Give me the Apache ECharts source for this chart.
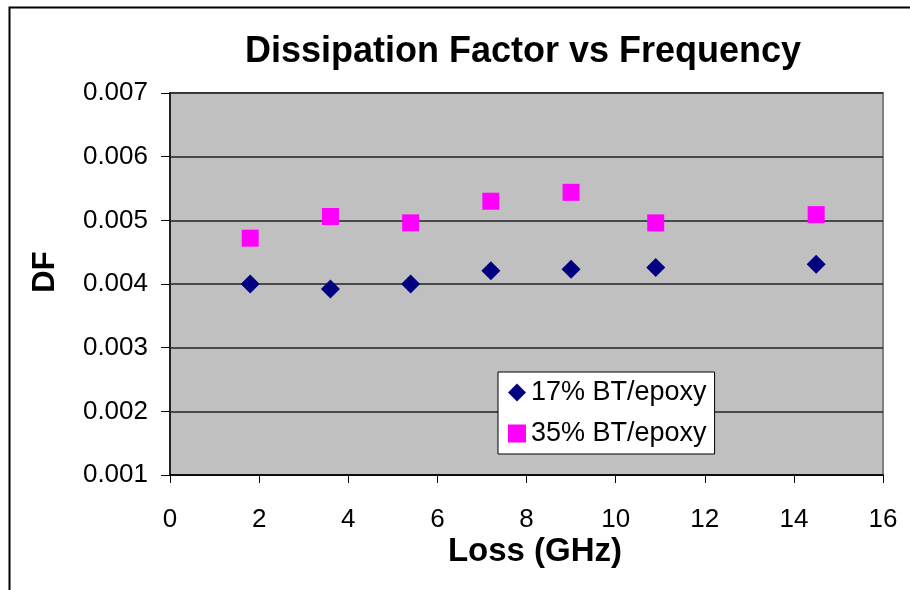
<!DOCTYPE html>
<html>
<head>
<meta charset="utf-8">
<script src="https://cdn.jsdelivr.net/npm/echarts@6/dist/echarts.min.js"></script>
<style>
html,body{margin:0;padding:0;background:#fff;}
#chart{width:910px;height:590px;}
</style>
</head>
<body>
<div id="chart"></div>
<script>
// Data
var freq17 = [1.8, 3.6, 5.4, 7.2, 9.0, 10.9, 14.5];
var df17 = [0.0040, 0.00392, 0.0040, 0.00421, 0.00423, 0.00426, 0.00431];
var freq35 = [1.8, 3.6, 5.4, 7.2, 9.0, 10.9, 14.5];
var df35 = [0.00472, 0.00506, 0.00496, 0.0053, 0.00544, 0.00496, 0.00509];
var seriesNames = ['17% BT/epoxy', '35% BT/epoxy'];
var titleText = 'Dissipation Factor vs Frequency';
var xName = 'Loss (GHz)';
var yName = 'DF';

function pairs(xs, ys){ return xs.map(function(x,i){ return [x, ys[i]]; }); }

var chart = echarts.init(document.getElementById('chart'), null, {renderer:'canvas'});
var FONT = 'Liberation Sans, Arial, sans-serif';
chart.setOption({
  animation: false,
  backgroundColor: '#ffffff',
  title: {
    text: titleText,
    left: 518, top: 29, textAlign: 'center',
    textStyle: {fontFamily: FONT, fontWeight: 'bold', fontSize: 36, color: '#000'}
  },
  grid: {
    left: 170, right: 27, top: 93, bottom: 115,
    show: true, backgroundColor: '#C0C0C0', borderColor: '#808080', borderWidth: 2
  },
  legend: {
    left: 498, top: 372, orient: 'vertical',
    backgroundColor: '#fff', borderColor: '#000', borderWidth: 1,
    padding: [7, 8, 7, 10], itemGap: 14, itemWidth: 18, itemHeight: 18,
    textStyle: {fontFamily: FONT, fontSize: 27, color: '#000'},
    data: [{name: seriesNames[0], icon: 'diamond'}, {name: seriesNames[1], icon: 'rect'}]
  },
  xAxis: {
    type: 'value', min: 0, max: 16, interval: 2,
    axisLine: {show: true, onZero: false, lineStyle: {color: '#000', width: 1.5}},
    axisTick: {show: true, length: 8, lineStyle: {color: '#000', width: 1}},
    axisLabel: {fontFamily: FONT, fontSize: 26, color: '#000', margin: 32},
    splitLine: {show: false}
  },
  yAxis: {
    type: 'value', min: 0.001, max: 0.007, interval: 0.001,
    axisLine: {show: true, onZero: false, lineStyle: {color: '#222', width: 2}},
    axisTick: {show: true, length: 9, lineStyle: {color: '#000', width: 1}},
    axisLabel: {fontFamily: FONT, fontSize: 26, color: '#000', margin: 22,
      formatter: function(v){ return v.toFixed(3); }},
    splitLine: {show: true, lineStyle: {color: '#222', width: 1.5}}
  },
  series: [
    {name: seriesNames[0], type: 'scatter', symbol: 'diamond', symbolSize: 19,
     itemStyle: {color: '#000080', opacity: 1}, data: pairs(freq17, df17), z: 3},
    {name: seriesNames[1], type: 'scatter', symbol: 'rect', symbolSize: 17,
     itemStyle: {color: '#FF00FF', opacity: 1}, data: pairs(freq35, df35), z: 4}
  ],
  graphic: [{
    type: 'rect', left: 7, top: 5, silent: true,
    shape: {x: 0, y: 0, width: 1000, height: 1000},
    style: {fill: 'none', stroke: '#000', lineWidth: 2}
  }, {
    type: 'text', x: 535, y: 552, silent: true,
    style: {text: xName, fontFamily: FONT, fontWeight: 'bold', fontSize: 33, fill: '#000',
      textAlign: 'center', textVerticalAlign: 'middle'}
  }, {
    type: 'text', x: 45, y: 272, rotation: Math.PI / 2, silent: true,
    style: {text: yName, fontFamily: FONT, fontWeight: 'bold', fontSize: 31, fill: '#000',
      textAlign: 'center', textVerticalAlign: 'middle'}
  }]
});
</script>
</body>
</html>
